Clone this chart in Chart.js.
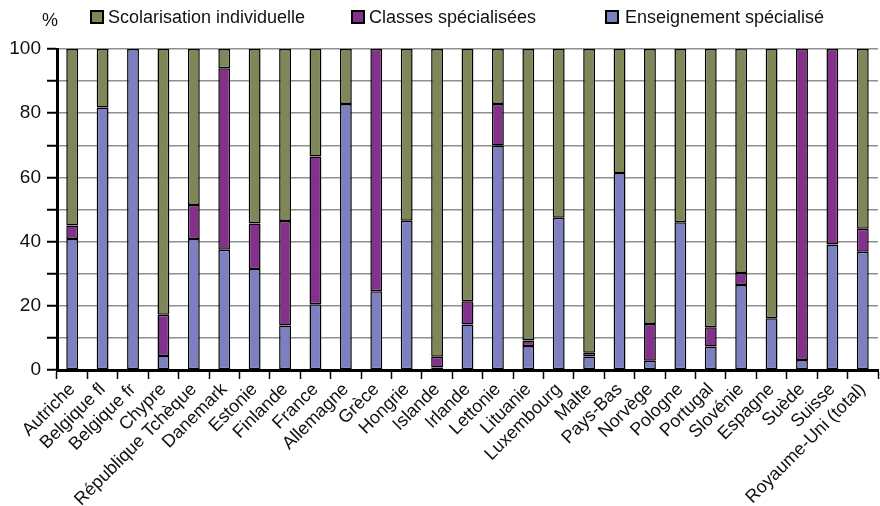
<!DOCTYPE html>
<html lang="fr">
<head>
<meta charset="utf-8">
<title>Répartition des élèves</title>
<script src="https://cdn.jsdelivr.net/npm/chart.js@4.4.1/dist/chart.umd.min.js"></script>
<style>
    body { margin: 0; background: #ffffff; }
    #wrap { position: relative; width: 880px; height: 506px; font-family: "Liberation Sans", Arial, sans-serif; color: #111; }
    #chartCanvas { position: absolute; left: 0; top: 0; }
    .unit { position: absolute; left: 42px; top: 10px; font-size: 18px; }
    .legend-item { position: absolute; top: 7px; font-size: 18px; line-height: 20px; white-space: nowrap; }
    .legend-box { position: absolute; top: 3px; width: 10px; height: 10px; border: 2px solid #000; }
    .legend-text { position: absolute; top: 0; }
</style>
</head>
<body>
<div id="wrap">
    <canvas id="chartCanvas" width="880" height="506"></canvas>
    <div class="unit">%</div>
    <div id="legend"></div>
</div>
<script>
// Categories (countries)
const categories = [
    'Autriche', 'Belgique fl', 'Belgique fr', 'Chypre', 'République Tchèque',
    'Danemark', 'Estonie', 'Finlande', 'France', 'Allemagne', 'Grèce',
    'Hongrie', 'Islande', 'Irlande', 'Lettonie', 'Lituanie', 'Luxembourg',
    'Malte', 'Pays-Bas', 'Norvège', 'Pologne', 'Portugal', 'Slovénie',
    'Espagne', 'Suède', 'Suisse', 'Royaume-Uni (total)'
];

// Series values (%), bottom to top of each stack
const enseignementSpecialise = [
    40.8, 81.8, 100, 4.4, 40.8, 37.5, 31.5, 13.9, 20.5, 82.9, 24.5,
    46.5, 0.8, 14.2, 69.9, 7.5, 47.4, 4.2, 61.4, 2.9, 46.0, 7.3, 26.5,
    16.1, 3.1, 39.1, 36.8
];
const classesSpecialisees = [
    4.2, 0, 0, 12.8, 10.6, 56.5, 14.1, 32.5, 46.0, 0, 75.5,
    0, 3.3, 7.2, 13.0, 1.7, 0, 1.2, 0, 11.4, 0, 6.0, 3.7,
    0, 96.9, 60.9, 7.2
];
const scolarisationIndividuelle = [
    55.0, 18.2, 0, 82.8, 48.6, 6.0, 54.4, 53.6, 33.5, 17.1, 0,
    53.5, 95.9, 78.6, 17.1, 90.8, 52.6, 94.6, 38.6, 85.7, 54.0, 86.7, 69.8,
    83.9, 0, 0, 56.0
];

// Y axis tick labels
const yTickLabels = ['0', '20', '40', '60', '80', '100'];

// Legend order as shown on top of the chart
const legendLabels = ['Scolarisation individuelle', 'Classes spécialisées', 'Enseignement spécialisé'];
const legendColors = ['#7f8657', '#84318b', '#7c80c0'];
const legendLeft = [90, 351, 605];

function buildLegend() {
    const holder = document.getElementById('legend');
    legendLabels.forEach((label, i) => {
        const item = document.createElement('div');
        item.className = 'legend-item';
        item.style.left = legendLeft[i] + 'px';
        const box = document.createElement('span');
        box.className = 'legend-box';
        box.style.left = '0px';
        box.style.background = legendColors[i];
        const text = document.createElement('span');
        text.className = 'legend-text';
        text.style.left = (i === 2 ? 20 : 18) + 'px';
        text.textContent = label;
        item.appendChild(box);
        item.appendChild(text);
        holder.appendChild(item);
    });
}

// Empty segments are left out so they don't draw a stray border
function makeDataset(label, data, color) {
    return {
        label: label,
        data: data.map(v => (v === 0 ? null : v)),
        backgroundColor: color,
        borderColor: '#000000',
        borderWidth: 1.5,
        borderSkipped: false,
        categoryPercentage: 1.0,
        barPercentage: 0.39
    };
}

function initializeChart() {
    const ctx = document.getElementById('chartCanvas').getContext('2d');

    const config = {
        type: 'bar',
        data: {
            labels: categories,
            datasets: [
                makeDataset('Enseignement spécialisé', enseignementSpecialise, legendColors[2]),
                makeDataset('Classes spécialisées', classesSpecialisees, legendColors[1]),
                makeDataset('Scolarisation individuelle', scolarisationIndividuelle, legendColors[0])
            ]
        },
        options: {
            responsive: false,
            animation: false,
            layout: {
                padding: { top: 49, right: 2, left: 0, bottom: 0 }
            },
            plugins: {
                legend: { display: false },
                tooltip: { enabled: false }
            },
            scales: {
                x: {
                    stacked: true,
                    offset: true,
                    border: { display: true, color: '#000000', width: 3 },
                    grid: {
                        offset: true,
                        drawOnChartArea: false,
                        drawTicks: true,
                        tickLength: 9,
                        tickColor: '#000000',
                        tickWidth: 1.5
                    },
                    ticks: {
                        autoSkip: false,
                        maxRotation: 45,
                        minRotation: 45,
                        padding: 0,
                        color: '#111111',
                        font: { family: '"Liberation Sans", Arial, sans-serif', size: 18 }
                    },
                    afterFit: function(scale) {
                        scale.height = 136;
                    }
                },
                y: {
                    stacked: true,
                    min: 0,
                    max: 100,
                    border: { display: true, color: '#000000', width: 3 },
                    grid: {
                        color: '#8f8f8f',
                        lineWidth: 1.5,
                        tickLength: 10,
                        tickColor: '#000000',
                        tickWidth: 2
                    },
                    ticks: {
                        stepSize: 10,
                        padding: 6,
                        color: '#111111',
                        font: { family: '"Liberation Sans", Arial, sans-serif', size: 19 },
                        callback: function(value) {
                            const label = String(value);
                            return yTickLabels.includes(label) ? label : '';
                        }
                    },
                    afterFit: function(scale) {
                        scale.width = 57;
                    }
                }
            }
        }
    };

    return new Chart(ctx, config);
}

buildLegend();
const chart = initializeChart();
</script>
</body>
</html>
